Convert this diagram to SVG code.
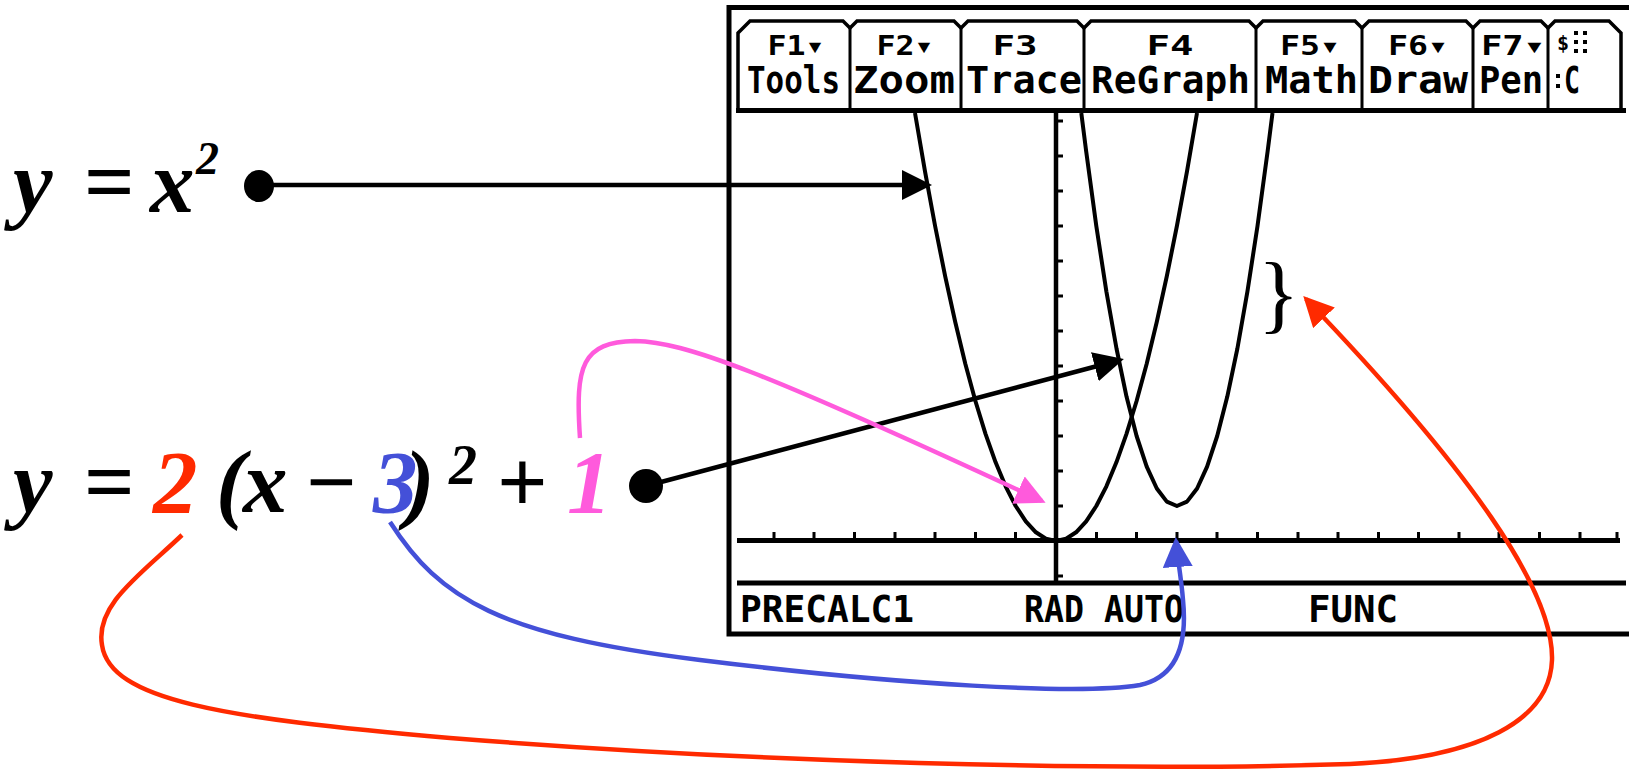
<svg xmlns="http://www.w3.org/2000/svg" width="1629" height="773" viewBox="0 0 1629 773">
<style>
.m{font-family:"Liberation Serif","Times New Roman",serif;font-weight:bold;font-style:italic;font-size:89px;fill:#000}
.mu{font-style:normal}
.sup1{font-size:46px}
.sup2{font-size:56px}
.red{fill:#FF2A00}
.blue{fill:#4450D8}
.pink{fill:#FF5ADC}
.px{font-family:"DejaVu Sans Mono","Liberation Mono",monospace;font-weight:bold;fill:#000}
.t1{font-size:27px}
.t2{font-size:37px}
.ic{font-size:20px}
.ln{fill:none;stroke:#000}
.cv{fill:none;stroke:#000;stroke-width:4;stroke-linejoin:round}
.con{fill:none;stroke-width:4.5}
</style>
<defs>
<marker id="ak" markerUnits="userSpaceOnUse" markerWidth="30" markerHeight="30" refX="26" refY="15" orient="auto" viewBox="0 0 30 30"><path d="M0,0 L30,15 L0,30 z" fill="#000"/></marker>
<marker id="ap" markerUnits="userSpaceOnUse" markerWidth="30" markerHeight="30" refX="26" refY="15" orient="auto" viewBox="0 0 30 30"><path d="M0,0 L30,15 L0,30 z" fill="#FF5ADC"/></marker>
<marker id="ab" markerUnits="userSpaceOnUse" markerWidth="30" markerHeight="30" refX="26" refY="15" orient="auto" viewBox="0 0 30 30"><path d="M0,0 L30,15 L0,30 z" fill="#4450D8"/></marker>
<marker id="ar" markerUnits="userSpaceOnUse" markerWidth="30" markerHeight="30" refX="26" refY="15" orient="auto" viewBox="0 0 30 30"><path d="M0,0 L30,15 L0,30 z" fill="#FF2A00"/></marker>
</defs>
<rect width="1629" height="773" fill="#fff"/>

<g id="screen">
<rect x="729" y="7.5" width="930" height="626.5" fill="#fff" stroke="#000" stroke-width="5"/>
<g id="tabs">
<path class="ln" stroke-width="3.5" d="M738,110 V33 L750,21 H843 L850,28 L857,21 H954 L961,28 L968,21 H1077 L1084,28 L1091,21 H1249 L1256,28 L1263,21 H1355 L1362,28 L1369,21 H1466 L1473,28 L1480,21 H1541 L1548,28 L1555,21 H1609 L1621,33 V110"/>
<path class="ln" stroke-width="3" d="M850,28 V110 M961,28 V110 M1084,28 V110 M1256,28 V110 M1362,28 V110 M1473,28 V110 M1548,28 V110"/>
<path class="ln" stroke-width="5" d="M736,110.5 H1626"/>
<g class="px t1" text-anchor="middle">
<text x="796" y="55" textLength="57" lengthAdjust="spacingAndGlyphs">F1▾</text>
<text x="905" y="55" textLength="57" lengthAdjust="spacingAndGlyphs">F2▾</text>
<text x="1015" y="55" textLength="45" lengthAdjust="spacingAndGlyphs">F3</text>
<text x="1170" y="55" textLength="47" lengthAdjust="spacingAndGlyphs">F4</text>
<text x="1310" y="55" textLength="60" lengthAdjust="spacingAndGlyphs">F5▾</text>
<text x="1418" y="55" textLength="60" lengthAdjust="spacingAndGlyphs">F6▾</text>
<text x="1513" y="55" textLength="64" lengthAdjust="spacingAndGlyphs">F7▾</text>
<text class="ic" x="1563" y="50">$</text>
</g>
<g class="px t2" text-anchor="middle">
<text x="793.5" y="93" textLength="93" lengthAdjust="spacingAndGlyphs">Tools</text>
<text x="904" y="93" textLength="102" lengthAdjust="spacingAndGlyphs">Zoom</text>
<text x="1024" y="93" textLength="116" lengthAdjust="spacingAndGlyphs">Trace</text>
<text x="1170.5" y="93" textLength="159" lengthAdjust="spacingAndGlyphs">ReGraph</text>
<text x="1311.5" y="93" textLength="93" lengthAdjust="spacingAndGlyphs">Math</text>
<text x="1418" y="93" textLength="100" lengthAdjust="spacingAndGlyphs">Draw</text>
<text x="1511" y="93" textLength="64" lengthAdjust="spacingAndGlyphs">Pen</text>
<text x="1572" y="93" textLength="16" lengthAdjust="spacingAndGlyphs">C</text>
</g>
<g fill="#000">
<rect x="1574" y="31" width="4" height="4"/><rect x="1583" y="31" width="4" height="4"/>
<rect x="1574" y="40" width="4" height="4"/><rect x="1583" y="40" width="4" height="4"/>
<rect x="1574" y="49" width="4" height="4"/><rect x="1583" y="49" width="4" height="4"/>
<rect x="1556" y="74" width="4" height="4"/><rect x="1556" y="84" width="4" height="4"/>
</g>
</g>
<g id="axes">
<path class="ln" stroke-width="5" d="M737,540.5 H1620"/>
<path class="ln" stroke-width="4.5" d="M1056,113 V584"/>
<path class="ln" stroke-width="3" d="M774,540 V532 M814,540 V532 M854.5,540 V532 M895,540 V532 M935,540 V532 M975.5,540 V532 M1015.5,540 V532 M1096.5,540 V532 M1136.5,540 V532 M1177,540 V532 M1217,540 V532 M1257.5,540 V532 M1298,540 V532 M1338,540 V532 M1378.5,540 V532 M1418.5,540 V532 M1459,540 V532 M1499,540 V532 M1539.5,540 V532 M1580,540 V532 M1617,540 V532"/>
<path class="ln" stroke-width="3" d="M1056,121 H1063 M1056,156 H1063 M1056,191 H1063 M1056,226 H1063 M1056,261 H1063 M1056,296 H1063 M1056,331 H1063 M1056,366 H1063 M1056,401 H1063 M1056,436 H1063 M1056,471 H1063 M1056,506 H1063 M1056,576 H1063"/>
</g>
<g id="curves">
<polyline class="cv" points="915,113 925,171.3 935.1,226 945.2,276.3 955.3,322.3 965.3,363.8 975.4,401 985.5,433.8 995.6,462.3 1005.6,486.3 1015.7,506 1025.8,521.3 1035.9,532.3 1045.9,538.8 1056,541 1066.1,538.8 1076.1,532.3 1086.2,521.3 1096.3,506 1106.4,486.3 1116.4,462.3 1126.5,433.8 1136.6,401 1146.7,363.8 1156.7,322.3 1166.8,276.3 1176.9,226 1187,171.3 1197,113"/>
<polyline class="cv" points="1081.3,113 1086.2,151.6 1096.3,226 1106.4,291.6 1116.5,348.5 1126.5,396.6 1136.6,436 1146.7,466.6 1156.8,488.5 1166.8,501.6 1176.9,506 1187,501.6 1197.1,488.5 1207.1,466.6 1217.2,436 1227.3,396.6 1237.4,348.5 1247.4,291.6 1257.5,226 1267.6,151.6 1272.5,113"/>
</g>
<g id="status">
<path class="ln" stroke-width="5" d="M737,583 H1626"/>
<g class="px t2">
<text x="740" y="622" textLength="174" lengthAdjust="spacingAndGlyphs">PRECALC1</text>
<text x="1024" y="622" textLength="160" lengthAdjust="spacingAndGlyphs">RAD AUTO</text>
<text x="1308" y="622" textLength="90" lengthAdjust="spacingAndGlyphs">FUNC</text>
</g>
</g>
</g>

<g id="brace">
<text x="1258" y="322" font-family="Liberation Serif, serif" font-size="86px">}</text>
</g>

<g id="eq1">
<text class="m" x="13" y="212">y</text>
<text class="m mu" x="84" y="212">=</text>
<text class="m" x="150" y="212">x</text>
<text class="m sup1" x="196" y="174">2</text>
</g>

<g id="eq2">
<text class="m" x="13" y="512">y</text>
<text class="m mu" x="84" y="512">=</text>
<text class="m red" x="153" y="512">2</text>
<text class="m" x="216" y="512">(</text>
<text class="m" x="243" y="512">x</text>
<text class="m mu" x="306" y="512">−</text>
<text class="m blue" x="373" y="512">3</text>
<text class="m" x="405" y="512">)</text>
<text class="m sup2" x="449" y="484">2</text>
<text class="m mu" x="497" y="512">+</text>
<text class="m pink" x="567" y="512">1</text>
</g>

<g id="connectors">
<path class="con" stroke="#000" marker-end="url(#ak)" d="M259,185 H928"/>
<ellipse cx="259" cy="186" rx="15" ry="16" fill="#000"/>
<path class="con" stroke="#000" marker-end="url(#ak)" d="M646,486 L1120,360"/>
<ellipse cx="646" cy="486" rx="17" ry="17" fill="#000"/>
<path class="con" stroke="#FF5ADC" marker-end="url(#ap)" d="M580,438 C575,365 582,342 635,341 C685,342 760,370 1042,501"/>
<path class="con" stroke="#4450D8" marker-end="url(#ab)" d="M390,522 C440,600 500,635 700,660 C900,685 1080,695 1140,685 C1185,675 1186,630 1183,600 C1181,575 1177,556 1176,541"/>
<path class="con" stroke="#FF2A00" marker-end="url(#ar)" d="M182,535 C140,575 95,605 102,645 C110,700 220,718 450,738 C750,762 1100,772 1350,764 C1480,758 1550,720 1552,660 C1554,590 1470,470 1306,299"/>
</g>
</svg>
